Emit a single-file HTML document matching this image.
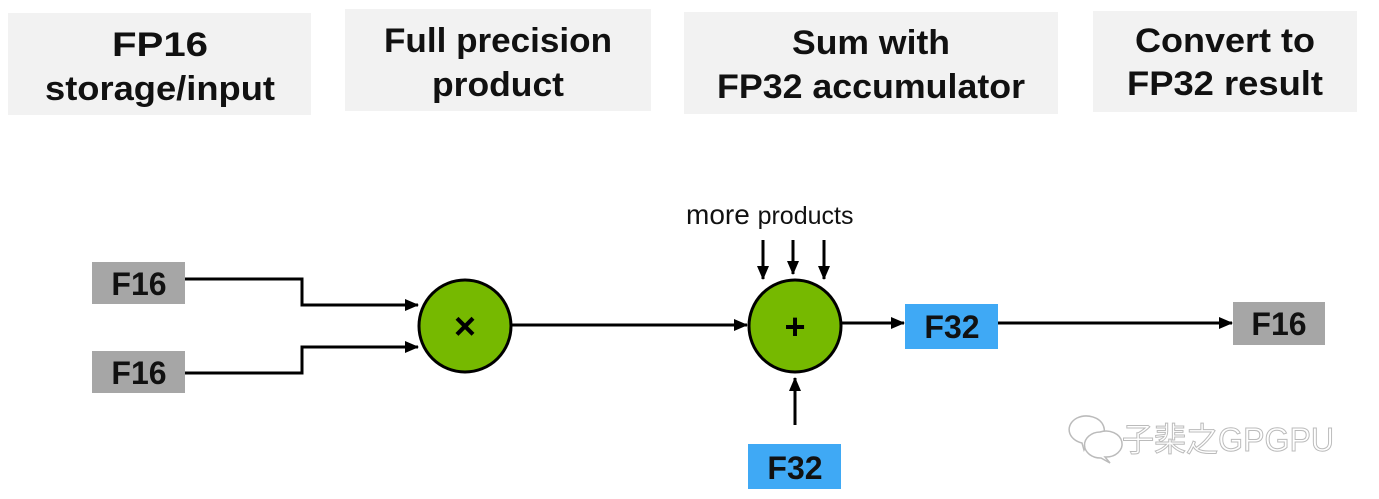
<!DOCTYPE html>
<html><head><meta charset="utf-8"><style>
html,body{margin:0;padding:0;background:#fff;}
svg{display:block;}
text{font-family:"Liberation Sans","Noto Sans CJK JP",sans-serif;}
</style></head><body>
<svg width="1379" height="499" viewBox="0 0 1379 499" xmlns="http://www.w3.org/2000/svg">
<defs>
<marker id="a" markerWidth="14" markerHeight="12" refX="13" refY="6" orient="auto" markerUnits="userSpaceOnUse" viewBox="0 0 14 12">
<path d="M0,0 L14,6 L0,12 z" fill="#000"/></marker>
</defs>
<g fill="#f2f2f2">
<rect x="8" y="13" width="303" height="102"/>
<rect x="345" y="9" width="306" height="102"/>
<rect x="684" y="12" width="374" height="102"/>
<rect x="1093" y="11" width="264" height="101"/>
</g>
<g font-weight="bold" font-size="34" text-anchor="middle" fill="#111">
<text x="160" y="56" textLength="96" lengthAdjust="spacingAndGlyphs">FP16</text><text x="160" y="100" textLength="230" lengthAdjust="spacingAndGlyphs">storage/input</text>
<text x="498" y="52" textLength="228" lengthAdjust="spacingAndGlyphs">Full precision</text><text x="498" y="96" textLength="132" lengthAdjust="spacingAndGlyphs">product</text>
<text x="871" y="54" textLength="158" lengthAdjust="spacingAndGlyphs">Sum with</text><text x="871" y="98" textLength="308" lengthAdjust="spacingAndGlyphs">FP32 accumulator</text>
<text x="1225" y="52" textLength="180" lengthAdjust="spacingAndGlyphs">Convert to</text><text x="1225" y="95" textLength="196" lengthAdjust="spacingAndGlyphs">FP32 result</text>
</g>
<g stroke="#000" stroke-width="3" fill="none">
<polyline points="185,279 302,279 302,305 418,305" marker-end="url(#a)"/>
<polyline points="185,373 302,373 302,347 418,347" marker-end="url(#a)"/>
<line x1="512" y1="325" x2="747" y2="325" marker-end="url(#a)"/>
<line x1="842" y1="323" x2="904" y2="323" marker-end="url(#a)"/>
<line x1="998" y1="323" x2="1232" y2="323" marker-end="url(#a)"/>
<line x1="795" y1="425" x2="795" y2="378" marker-end="url(#a)"/>
<line x1="763" y1="240" x2="763" y2="279" marker-end="url(#a)"/>
<line x1="793" y1="240" x2="793" y2="274" marker-end="url(#a)"/>
<line x1="824" y1="240" x2="824" y2="279" marker-end="url(#a)"/>
</g>
<circle cx="465" cy="326" r="46" fill="#76b900" stroke="#000" stroke-width="3"/>
<circle cx="795" cy="326" r="46" fill="#76b900" stroke="#000" stroke-width="3"/>
<text x="465" y="339" font-size="38" font-weight="bold" text-anchor="middle">×</text>
<text x="795" y="339" font-size="36" font-weight="bold" text-anchor="middle">+</text>
<rect x="92" y="262" width="93" height="42" fill="#a6a6a6"/>
<rect x="92" y="351" width="93" height="42" fill="#a6a6a6"/>
<rect x="1233" y="302" width="92" height="43" fill="#a6a6a6"/>
<rect x="905" y="304" width="93" height="45" fill="#3fa9f5"/>
<rect x="748" y="444" width="93" height="45" fill="#3fa9f5"/>
<g font-weight="bold" font-size="32" text-anchor="middle" fill="#111">
<text x="139" y="295">F16</text>
<text x="139" y="384">F16</text>
<text x="1279" y="335">F16</text>
<text x="952" y="338">F32</text>
<text x="795" y="479">F32</text>
</g>
<text x="686" y="224" font-size="28" fill="#111">more <tspan font-size="25">products</tspan></text>
<g fill="none" stroke="#bbb" stroke-width="1.5">
<path d="M1077,418 a18,14 0 1,1 10,26 l-3,6 l-2,-7 a18,14 0 0,1 -5,-25z"/>
<path d="M1100,432 a16,13 0 1,1 5,25 l5,6 l-9,-5 a16,13 0 0,1 -1,-26z" fill="#fff"/>
</g>
<text x="1122" y="451" font-size="33" fill="#fff" stroke="#bbb" stroke-width="1" textLength="212" lengthAdjust="spacingAndGlyphs">子棐之GPGPU</text>
</svg>
</body></html>
